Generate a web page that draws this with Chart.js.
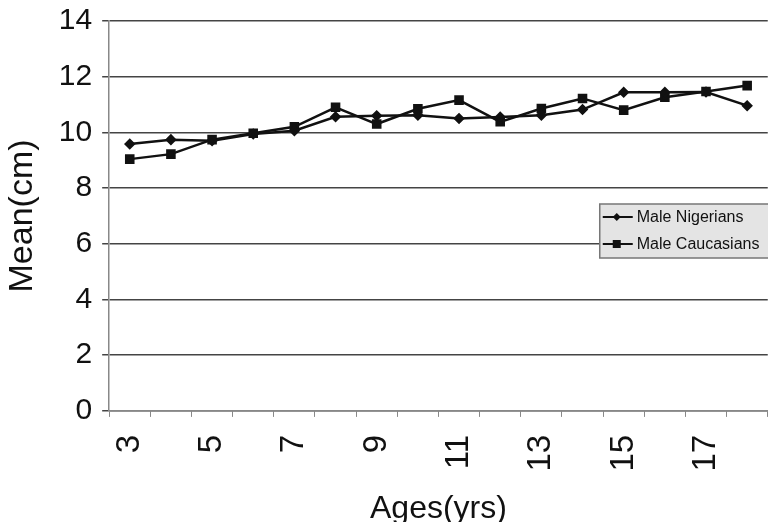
<!DOCTYPE html>
<html lang="en">
<head>
<meta charset="UTF-8">
<title>Mean(cm) by Ages(yrs)</title>
<script src="https://cdn.jsdelivr.net/npm/chart.js"></script>
<style>
  html, body { margin: 0; padding: 0; background: #fff; }
  /* the original is cropped at the right edge, so the plot runs past the window */
  #wrap { width: 768px; height: 522px; position: relative; overflow: hidden; }
  #inner { position: absolute; left: 0; top: -7px; width: 805px; height: 539px; }
</style>
</head>
<body>
<div id="wrap"><div id="inner"><canvas id="chart"></canvas></div></div>
<script>
// values
const ages = ['3','4','5','6','7','8','9','10','11','12','13','14','15','16','17','18'];
const maleNigerians  = [9.58, 9.74, 9.70, 9.94, 10.06, 10.56, 10.60, 10.62, 10.50, 10.55, 10.62, 10.82, 11.44, 11.44, 11.45, 10.96];
const maleCaucasians = [9.04, 9.22, 9.74, 9.97, 10.20, 10.90, 10.30, 10.85, 11.16, 10.38, 10.86, 11.22, 10.80, 11.26, 11.47, 11.68];
const yMin = 0, yMax = 14, yStep = 2;

const FONT = '"Liberation Sans", Arial, sans-serif';

// legend drawn inside the plot, like the original
const insideLegend = {
  id: 'insideLegend',
  afterDraw(chart) {
    const ctx = chart.ctx;
    const area = chart.chartArea;
    const x = area.right - 168, y = area.top + 183;
    ctx.save();
    ctx.fillStyle = '#e4e4e4';
    ctx.fillRect(x, y, 190, 54);
    ctx.strokeStyle = '#777';
    ctx.lineWidth = 1.5;
    ctx.strokeRect(x, y, 190, 54);
    chart.data.datasets.forEach((ds, i) => {
      const ly = y + 13 + i * 27;
      ctx.strokeStyle = ds.borderColor;
      ctx.lineWidth = 2;
      ctx.beginPath();
      ctx.moveTo(x + 3, ly);
      ctx.lineTo(x + 33, ly);
      ctx.stroke();
      ctx.fillStyle = ds.borderColor;
      const mx = x + 17;
      if (ds.pointStyle === 'rect') {
        ctx.fillRect(mx - 4, ly - 4, 8, 8);
      } else {
        ctx.beginPath();
        ctx.moveTo(mx, ly - 4); ctx.lineTo(mx + 4, ly); ctx.lineTo(mx, ly + 4); ctx.lineTo(mx - 4, ly);
        ctx.closePath();
        ctx.fill();
      }
      ctx.fillStyle = '#111';
      ctx.font = '16px ' + FONT;
      ctx.textBaseline = 'middle';
      ctx.fillText(ds.label, x + 37, ly + 1);
    });
    ctx.restore();
  }
};

new Chart(document.getElementById('chart'), {
  type: 'line',
  data: {
    labels: ages,
    datasets: [
      {
        label: 'Male Nigerians',
        data: maleNigerians,
        borderColor: '#111',
        backgroundColor: '#111',
        borderWidth: 2.5,
        pointStyle: 'rectRot',
        pointRadius: 4,
        pointBackgroundColor: '#111',
        tension: 0
      },
      {
        label: 'Male Caucasians',
        data: maleCaucasians,
        borderColor: '#111',
        backgroundColor: '#111',
        borderWidth: 2.5,
        pointStyle: 'rect',
        pointRadius: 5,
        pointBackgroundColor: '#111',
        tension: 0
      }
    ]
  },
  options: {
    responsive: true,
    maintainAspectRatio: false,
    animation: false,
    layout: { padding: { left: 2, right: 0, top: 2, bottom: 4 } },
    plugins: {
      legend: { display: false },
      tooltip: { enabled: false }
    },
    scales: {
      x: {
        offset: true,
        grid: { display: true, drawOnChartArea: false, offset: true, tickLength: 6, color: '#888' },
        border: { color: '#888', width: 1.5 },
        ticks: {
          autoSkip: false,
          maxRotation: 90,
          minRotation: 90,
          padding: 18,
          color: '#111',
          font: { family: FONT, size: 33 },
          callback: function (value, index) {
            return index % 2 === 0 ? this.getLabelForValue(value) : '';
          }
        },
        title: {
          display: true,
          text: 'Ages(yrs)',
          color: '#111',
          font: { family: FONT, size: 32 },
          padding: { top: 0, bottom: 0 }
        }
      },
      y: {
        min: yMin,
        max: yMax,
        grid: { color: '#444', lineWidth: 1.5, tickLength: 7 },
        border: { color: '#888', width: 1.5 },
        ticks: {
          stepSize: yStep,
          padding: 10,
          color: '#111',
          font: { family: FONT, size: 30 }
        },
        title: {
          display: true,
          text: 'Mean(cm)',
          color: '#111',
          font: { family: FONT, size: 34 },
          padding: { top: 0, bottom: 6 }
        }
      }
    }
  },
  plugins: [insideLegend]
});
</script>
</body>
</html>
